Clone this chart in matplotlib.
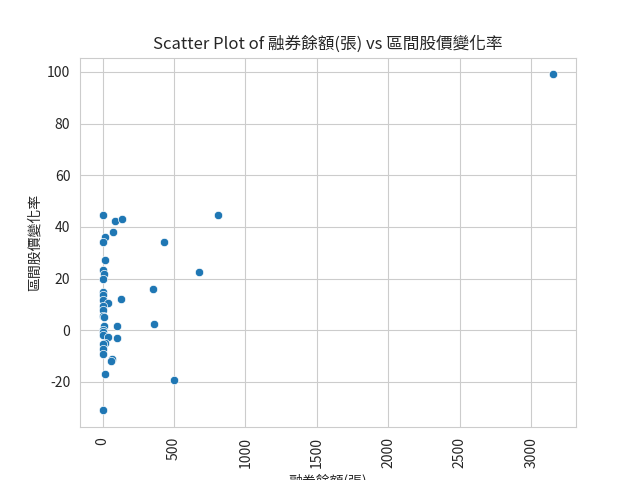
import matplotlib
matplotlib.use("Agg")
import matplotlib.pyplot as plt
import seaborn as sns
import pandas as pd

# 融券餘額(張) and 區間股價變化率
short_balance = [0, 90, 134, 806, 76, 14, 0, 431, 14, 0, 10, 0, 678, 353,
                 0, 0, 0, 38, 127, 0, 0, 0, 10, 360, 8, 99, 0, 0, 0, 38,
                 99, 14, 0, 0, 0, 64, 57, 14, 502, 0, 3156]
price_change = [44.5, 42.2, 43.0, 44.5, 38.2, 35.9, 34.3, 34.3, 27.0, 23.2,
                21.7, 20.0, 22.7, 16.1, 14.8, 13.5, 11.6, 10.7, 12.0, 9.3,
                7.7, 5.7, 5.2, 2.6, 1.5, 1.5, 0.3, -0.6, -1.9, -2.6,
                -2.8, -4.9, -5.5, -7.4, -9.0, -11.1, -11.7, -17.0, -19.4,
                -31.0, 99.0]

x_col = "融券餘額(張)"
y_col = "區間股價變化率"

sns.set_style("whitegrid")
plt.rcParams['font.family'] = ['Noto Sans CJK TC', 'DejaVu Sans']
plt.rcParams['axes.unicode_minus'] = False

df = pd.DataFrame({x_col: short_balance, y_col: price_change})

fig, ax = plt.subplots(figsize=(6.4, 4.8), dpi=100)
sns.scatterplot(data=df, x=x_col, y=y_col, ax=ax)
ax.set_title(f"Scatter Plot of {x_col} vs {y_col}")
plt.xticks(rotation=90)

plt.savefig("out.png", dpi=100)
